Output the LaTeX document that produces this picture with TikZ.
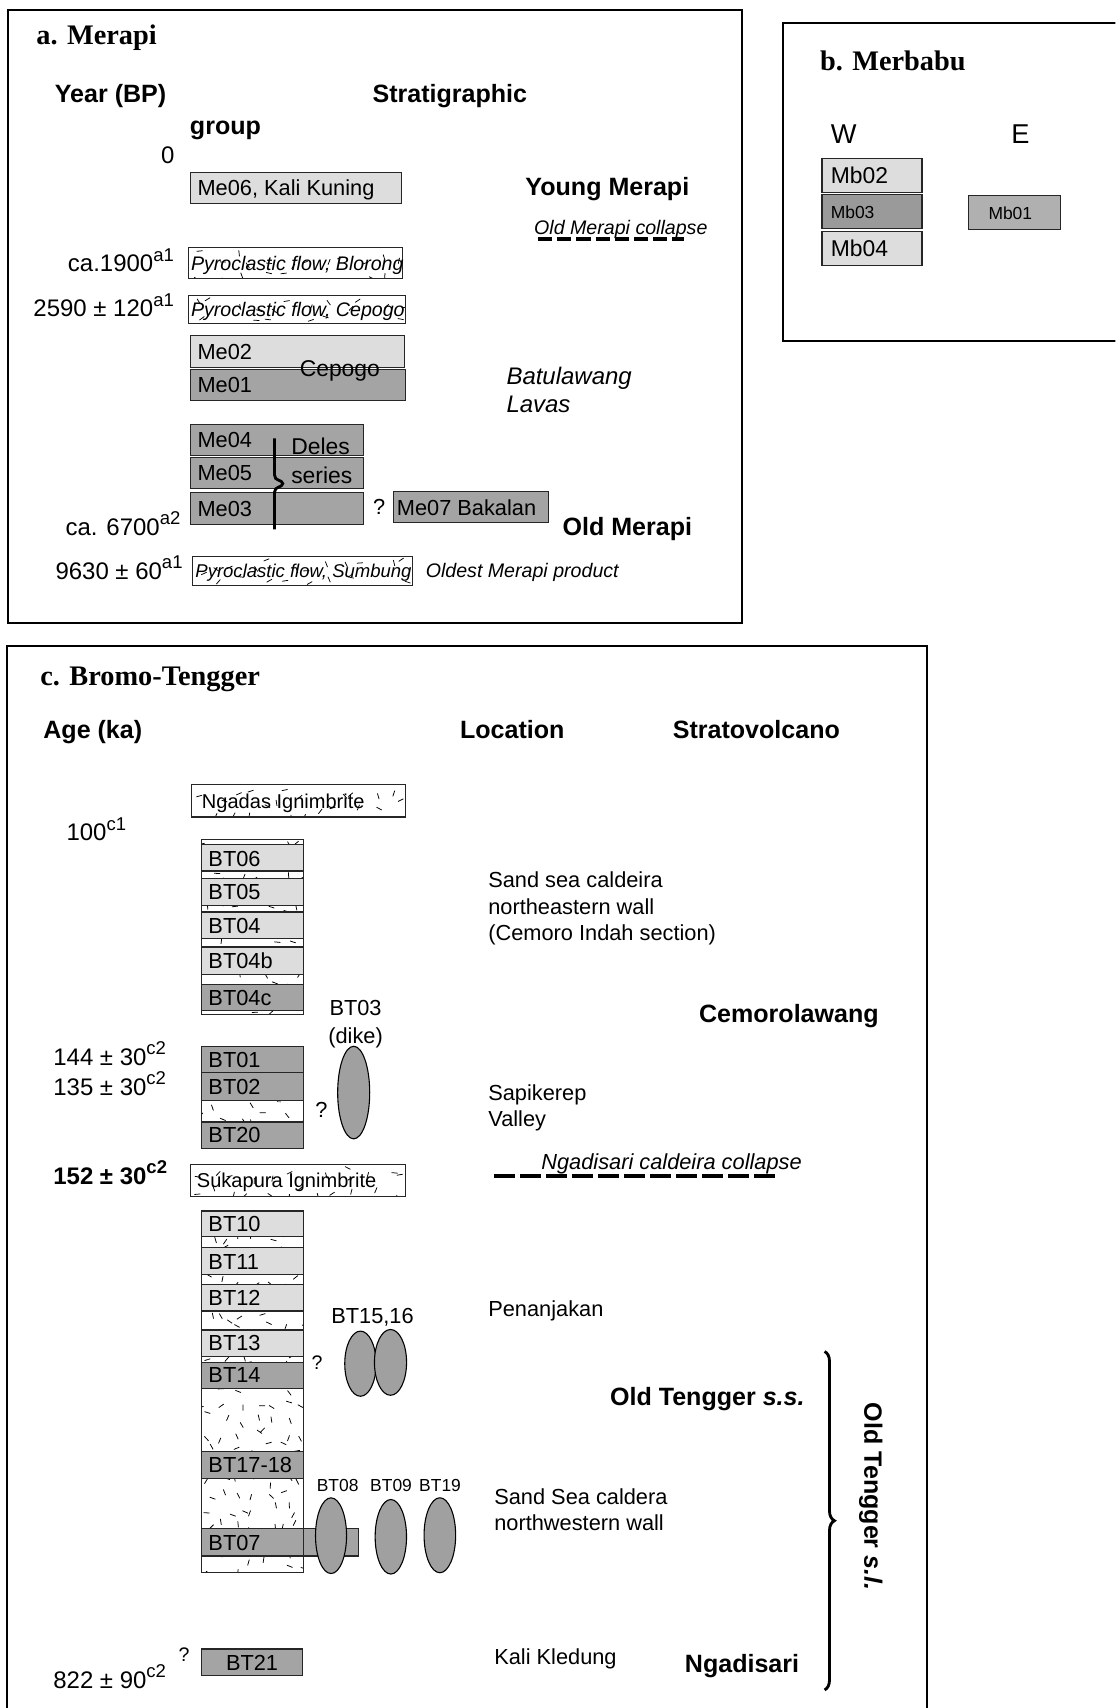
\documentclass[tikz,border=0pt]{standalone}
\usepackage{fontspec}
\setmainfont{Liberation Sans}
\newfontfamily\tnr{Liberation Serif}
\usetikzlibrary{decorations.pathreplacing,shapes.geometric}
\definecolor{lg}{HTML}{DDDDDD}
\definecolor{dg}{HTML}{A4A4A4}
\definecolor{mg}{HTML}{B0B0B0}
\definecolor{xg}{HTML}{9A9A9A}
\definecolor{eg}{HTML}{A0A0A0}
\newcommand\sups[1]{\raisebox{0.45em}{\fontsize{8.5}{8}\selectfont #1}}
\newcommand\hatchfill[5]{%
  \begin{scope}
    \clip (#1,#2) rectangle (#3,#4);
    \pgfmathtruncatemacro\hnx{(#3-#1)/#5}%
    \pgfmathtruncatemacro\hny{(#4-#2)/#5}%
    \foreach \i in {0,...,\hnx}{%
      \foreach \j in {0,...,\hny}{%
        \pgfmathsetmacro\hx{#1+(\i+0.5)*#5+(rnd-0.5)*#5*0.8}%
        \pgfmathsetmacro\hy{#2+(\j+0.5)*#5+(rnd-0.5)*#5*0.8}%
        \pgfmathsetmacro\ha{rnd*180}%
        \draw[tick] (\hx,\hy) -- ++(\ha:5.5);
      }}
  \end{scope}}
\newcommand\hatchbox[5]{% white hatched box
  \fill[white] (#1,#2) rectangle (#3,#4);
  \hatchfill{#1}{#2}{#3}{#4}{#5}
  \draw[sbox] (#1,#2) rectangle (#3,#4);}
\newcommand\gbox[5]{\draw[sbox,fill=#5] (#1,#2) rectangle (#3,#4);}
\tikzset{
  lab/.style={inner sep=0pt, text depth=0pt, anchor=west},
  f10/.style={lab, font=\fontsize{10}{12}\selectfont, text height=7.2pt},
  f105/.style={lab, font=\fontsize{10.5}{12}\selectfont, text height=7.5pt},
  f11/.style={lab, font=\fontsize{11}{13}\selectfont, text height=7.9pt},
  f9/.style={lab, font=\fontsize{9}{11}\selectfont, text height=6.5pt},
  f8/.style={lab, font=\fontsize{8}{10}\selectfont, text height=5.8pt},
  f12/.style={lab, font=\fontsize{12.5}{14}\selectfont, text height=9pt},
  ign/.style={lab, font=\fontsize{9.2}{11}\selectfont, text height=6.6pt},
  pyro/.style={lab, font=\fontsize{9}{11}\selectfont\itshape, text height=6.5pt},
  hd/.style={lab, font=\fontsize{11.5}{13}\selectfont\bfseries, text height=8.2pt},
  ttl/.style={lab, font=\tnr\fontsize{13}{15}\selectfont\bfseries, text height=8.6pt},
  frame/.style={line width=0.9pt},
  sbox/.style={draw=black!85, line width=0.5pt},
  tick/.style={line width=0.35pt},
  ell/.style={ellipse, draw=black, line width=0.5pt, fill=eg, inner sep=0pt},
  collapse/.style={line width=1.8pt},
}
\begin{document}
\begin{tikzpicture}[x=0.5pt,y=-0.5pt]
\pgfmathsetseed{4711}
\useasboundingbox (0,0) rectangle (1024,1568);
\clip (0,0) rectangle (1024,1568);
\fill[white] (0,0) rectangle (1024,1568);

% ---------------- panel a ----------------
\draw[frame] (7,9) rectangle (681,572);
\node[ttl] (ta) at (33,32) {a. Merapi};
\node[hd] (yr) at (50,86) {Year (BP)};
\node[hd] (strat) at (341.6,86) {Stratigraphic};
\node[hd] (grp) at (174,115) {group};
\node[f11,anchor=center] (zero) at (154,142) {0};
\gbox{174.5}{158}{368.6}{186.7}{lg}
\node[f10] (me06) at (181,172.3) {Me06, Kali Kuning};
\node[hd] (ym) at (482,171.4) {Young Merapi};
\node[f9,font=\fontsize{9}{11}\selectfont\itshape] (omc) at (490,209) {Old Merapi collapse};
\coordinate (omcA) at (494,219);
\coordinate (omcB) at (628,219);
\draw[collapse, dash pattern=on 6.5pt off 2.3pt] (omcA) -- (omcB);
\hatchbox{173.2}{227.1}{369.5}{255.6}{17}
\node[pyro] (blorong) at (175,241.4) {Pyroclastic flow, Blorong};
\node[f11,anchor=east] (d1900) at (160,241.8) {ca.1900\sups{a1}};
\hatchbox{173.2}{270.9}{372.2}{297}{17}
\node[pyro] (cepogo) at (175,284) {Pyroclastic flow, Cepogo};
\node[f11,anchor=east] (d2590) at (160,283) {2590 ± 120\sups{a1}};
\gbox{174.5}{308.3}{371.7}{337.3}{lg}
\node[f10] (me02) at (181,322.8) {Me02};
\gbox{174.5}{339.2}{372.1}{367.3}{dg}
\node[f10] (me01) at (181,353.2) {Me01};
\node[f105,anchor=center] (cep) at (312,337.7) {Cepogo};
\node[f11,font=\fontsize{11}{13}\selectfont\itshape] (batu) at (464.6,345) {Batulawang};
\node[f11,font=\fontsize{11}{13}\selectfont\itshape] (lavas) at (464.6,370.4) {Lavas};
\gbox{174.5}{389.4}{333.8}{417.9}{dg}
\node[f10] (me04) at (181,403.6) {Me04};
\gbox{174.5}{420}{333.8}{448.5}{dg}
\node[f10] (me05) at (181,434.2) {Me05};
\gbox{174.5}{452.5}{333.8}{481.2}{dg}
\node[f10] (me03) at (181,466.8) {Me03};
\draw[line width=1.3pt] (252,402.5) -- (252,436) .. controls (252,442) and (259,440) .. (259.6,444) .. controls (259,448) and (252,446) .. (252,452) -- (252,486);
\node[f105] (deles) at (267,410.2) {Deles};
\node[f105] (series) at (267,436.2) {series};
\node[f10,anchor=center] (q1) at (348,465.3) {?};
\gbox{361.2}{451.5}{503.9}{480}{dg}
\node[f10] (me07) at (364,465.7) {Me07 Bakalan};
\node[hd] (om) at (516.1,483.7) {Old Merapi};
\node[f11,anchor=east] (d6700) at (166,483.7) {ca. 6700\sups{a2}};
\hatchbox{176.7}{510.6}{378.7}{537.2}{17}
\node[pyro,font=\fontsize{8.5}{11}\selectfont\itshape] (sumbung) at (179,524) {Pyroclastic flow, Sumbung};
\node[f11,anchor=east] (d9630) at (168,524) {9630 ± 60\sups{a1}};
\node[f9,font=\fontsize{9}{11}\selectfont\itshape] (oldest) at (390.5,524) {Oldest Merapi product};

% ---------------- panel b ----------------
\draw[frame] (1030,21) -- (719,21) -- (719,313) -- (1030,313);
\node[ttl] (tb) at (752.4,56) {b. Merbabu};
\node[f12] (w) at (762.3,122.4) {W};
\node[f12,anchor=center] (e) at (936.7,122.4) {E};
\gbox{754.6}{145.4}{846.4}{176.6}{lg}
\node[f105] (mb02) at (762.3,161) {Mb02};
\gbox{754.6}{178.5}{846.4}{209.7}{xg}
\node[f8] (mb03) at (762.3,195) {Mb03};
\gbox{754.6}{212.8}{846.4}{244}{lg}
\node[f105] (mb04) at (762.3,228.4) {Mb04};
\gbox{888.7}{179.4}{973.5}{210.6}{mg}
\node[f8,anchor=center] (mb01) at (927.5,196) {Mb01};

% ---------------- panel c ----------------
\draw[frame] (6,1590) -- (6,593) -- (851,593) -- (851,1590);
\node[ttl] (tc) at (36.7,620.8) {c. Bromo-Tengger};
\node[hd] (age) at (39.4,670) {Age (ka)};
\node[hd] (loc) at (422,670) {Location};
\node[hd] (strv) at (617.3,670) {Stratovolcano};
\hatchbox{175.5}{720.3}{372.3}{750}{16}
\node[ign] (ngadas) at (185,735.5) {Ngadas Ignimbrite};
\node[f11] (d100) at (60.7,764) {100\sups{c1}};
% column A
\hatchbox{184.7}{770.8}{278.5}{931.5}{14}
\gbox{184.7}{775.4}{278.5}{799.6}{lg}
\node[f10] (bt06) at (191,788) {BT06};
\gbox{184.7}{806.6}{278.5}{831.1}{lg}
\node[f10] (bt05) at (191,819) {BT05};
\gbox{184.7}{837.2}{278.5}{861.7}{lg}
\node[f10] (bt04) at (191,849.5) {BT04};
\gbox{184.7}{869.4}{278.5}{894.5}{lg}
\node[f10] (bt04b) at (191,882) {BT04b};
\gbox{184.7}{904}{278.5}{927.5}{dg}
\node[f10] (bt04c) at (191,915.8) {BT04c};
\draw[sbox] (184.7,770.8) rectangle (278.5,931.5);
\node[f10,anchor=center] (bt03l) at (326.4,925.4) {BT03};
\node[f10,anchor=center] (dike) at (326.4,950.5) {(dike)};
\node[ell, minimum width=14.7pt, minimum height=42.5pt] (bt03) at (324.7,1003) {};
\node[f11] (d144) at (48.6,970) {144 ± 30\sups{c2}};
\node[f11] (d135) at (48.6,998) {135 ± 30\sups{c2}};
% column B
\hatchbox{184.7}{960.3}{278.5}{1054}{14}
\gbox{184.7}{960.3}{278.5}{984.8}{dg}
\node[f10] (bt01) at (191,972.5) {BT01};
\gbox{184.7}{984.8}{278.5}{1010.2}{dg}
\node[f10] (bt02) at (191,997.5) {BT02};
\gbox{184.7}{1030}{278.5}{1054}{dg}
\node[f10] (bt20) at (191,1042) {BT20};
\draw[sbox] (184.7,960.3) rectangle (278.5,1054);
\node[f10,anchor=center] (q2) at (295,1019) {?};
\node[f10] (sand1) at (447.9,807.5) {Sand sea caldeira};
\node[f10] (sand2) at (447.9,832) {northeastern wall};
\node[f10] (sand3) at (447.9,856) {(Cemoro Indah section)};
\node[hd] (cemo) at (641.4,930.5) {Cemorolawang};
\node[f10] (sapi1) at (447.9,1002.7) {Sapikerep};
\node[f10] (sapi2) at (447.9,1026.6) {Valley};
\node[f10,font=\fontsize{10}{12}\selectfont\itshape] (ngcol) at (496.6,1066) {Ngadisari caldeira collapse};
\coordinate (ngA) at (453.4,1080);
\coordinate (ngB) at (713.2,1080);
\draw[collapse, dash pattern=on 9.7pt off 2.25pt] (ngA) -- (ngB);
\node[f11,font=\fontsize{11}{13}\selectfont\bfseries] (d152) at (48.6,1079.6) {152 ± 30\sups{c2}};
\hatchbox{174.8}{1069}{372.3}{1098.5}{16}
\node[ign] (suka) at (180.4,1084) {Sukapura Ignimbrite};
% column C
\hatchbox{184.7}{1111.7}{278.5}{1443.7}{14}
\gbox{184.7}{1111.7}{278.5}{1135.5}{lg}
\node[f10] (bt10) at (191,1123.6) {BT10};
\gbox{184.7}{1145.5}{278.5}{1170.4}{lg}
\node[f10] (bt11) at (191,1158) {BT11};
\gbox{184.7}{1179.3}{278.5}{1203.5}{lg}
\node[f10] (bt12) at (191,1191.4) {BT12};
\gbox{184.7}{1221}{278.5}{1245.1}{lg}
\node[f10] (bt13) at (191,1233) {BT13};
\gbox{184.7}{1250.4}{278.5}{1274.3}{dg}
\node[f10] (bt14) at (191,1262.3) {BT14};
\gbox{184.7}{1332.3}{278.5}{1357.3}{dg}
\node[f10] (bt1718) at (191,1344.8) {BT17-18};
\gbox{184.7}{1403.5}{329}{1428.4}{dg}
\node[f10] (bt07) at (191,1416) {BT07};
\draw[sbox] (184.7,1111.7) rectangle (278.5,1443.7);
\node[f10] (pen) at (447.9,1201.6) {Penanjakan};
\node[f10,anchor=center] (bt1516l) at (342,1207.6) {BT15,16};
\node[f9,anchor=center] (q3) at (291,1250.4) {?};
\node[ell, minimum width=14.4pt, minimum height=29.9pt] (bt15) at (330.9,1251.9) {};
\node[ell, minimum width=14.75pt, minimum height=30.2pt] (bt16) at (358.5,1250.7) {};
\node[f8,anchor=center] (bt08l) at (310,1363.7) {BT08};
\node[f8,anchor=center] (bt09l) at (359,1363.7) {BT09};
\node[f8,anchor=center] (bt19l) at (404,1363.7) {BT19};
\node[ell, minimum width=14.25pt, minimum height=34.75pt] (bt08) at (303.9,1409.8) {};
\node[ell, minimum width=14.4pt, minimum height=34.2pt] (bt09) at (358.8,1410.8) {};
\node[ell, minimum width=14.5pt, minimum height=34.4pt] (bt19) at (403.8,1409.4) {};
\node[hd] (ots) at (559.7,1281.7) {Old Tengger \textit{s.s.}};
\node[f10] (ssc1) at (453.4,1374.1) {Sand Sea caldera};
\node[f10] (ssc2) at (453.4,1397.8) {northwestern wall};
\coordinate (brA) at (757,1240.7);
\coordinate (brB) at (757,1551.4);
\draw[line width=1.3pt, decorate, decoration={brace, amplitude=4.5pt}] (brA) -- (brB);
\node[hd, anchor=center, rotate=-90] (otl) at (801.6,1374) {Old Tengger \textit{s.l.}};
\node[f10] (kali) at (453.4,1520.5) {Kali Kledung};
\node[hd] (ngad) at (628.4,1527.2) {Ngadisari};
\gbox{184.6}{1513.8}{278.1}{1538}{dg}
\node[f10,anchor=center] (bt21) at (231.4,1525.9) {BT21};
\node[f9,anchor=center] (q4) at (169,1519) {?};
\node[f11] (d822) at (48.6,1542) {822 ± 90\sups{c2}};
\end{tikzpicture}
\end{document}
